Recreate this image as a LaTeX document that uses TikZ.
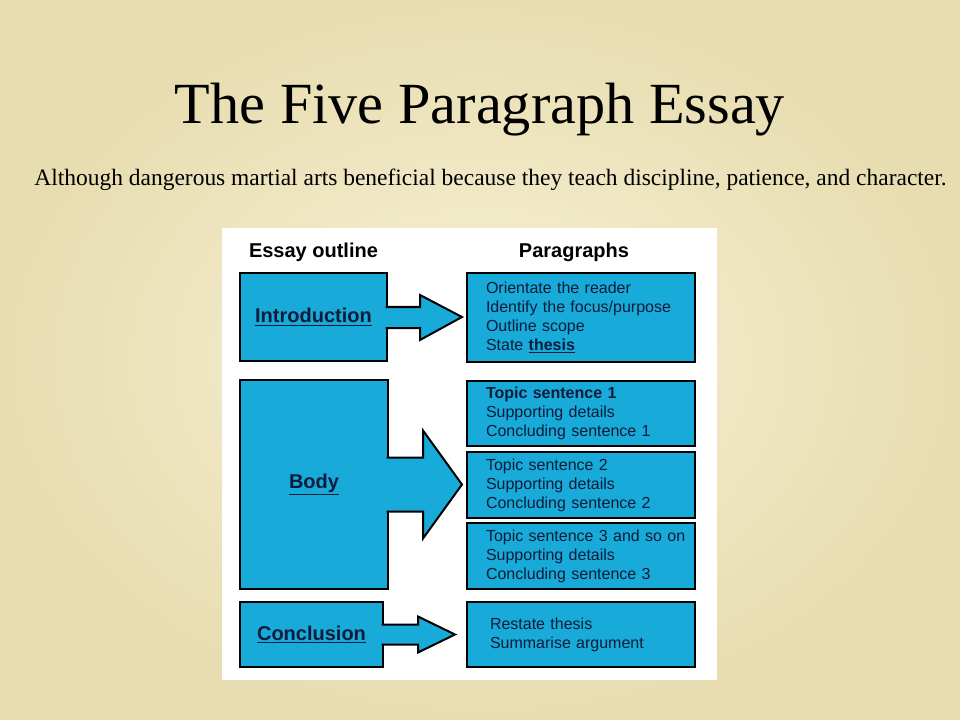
\documentclass[tikz,border=0pt]{standalone}
\usepackage{fontspec}
\setmainfont{Liberation Serif}
\setsansfont{Liberation Sans}
\usepackage{tikz}
\usetikzlibrary{calc,positioning}
\definecolor{parchin}{RGB}{247,242,216}
\definecolor{parchout}{RGB}{232,221,176}
\definecolor{boxblue}{RGB}{24,170,216}
\definecolor{boxtext}{RGB}{12,28,58}

\begin{document}
\begin{tikzpicture}[x=0.75pt,y=-0.75pt,
		outline/.style={draw=black,line width=1.5pt,fill=boxblue,outer sep=0pt,line join=miter},
		leftbox/.style={outline,font=\sffamily\bfseries\fontsize{15}{18}\selectfont,text=boxtext,inner sep=0pt},
		parbox/.style={outline,font=\sffamily\fontsize{12}{14.25}\selectfont,text=boxtext,align=left,
			text width=142.5pt,inner xsep=14.25pt,inner ysep=0pt,minimum width=171pt},
		heading/.style={font=\sffamily\bfseries\fontsize{15}{18}\selectfont,text=black}]
			% slide and white panel
			\shade[inner color=parchin,outer color=parchout] (0,0) rectangle (960,720);
			\useasboundingbox (0,0) rectangle (960,720);
			\fill[white] (222,228) rectangle (717,680);
			% title and thesis
			\node[font=\fontsize{43.7}{50}\selectfont,anchor=base] (title) at (480,124) {The Five Paragraph Essay};
			\node[font=\fontsize{17.6}{21}\selectfont,anchor=base] (thesisline) at (490.5,186) {Although dangerous martial arts beneficial because they teach discipline, patience, and character.};
			% column headings
			\node[heading] (outlinehead) at (313.5,252) {Essay outline};
			\node[heading] (parahead) at (574,252) {Paragraphs};
			% outline boxes
			\node[leftbox,minimum width=110.25pt,minimum height=66pt] (intro) at (313.5,317) {\underline{Introduction}};
			\node[leftbox,minimum width=111pt,minimum height=156.75pt] (body) at (314,484.5) {\underline{Body}};
			\node[leftbox,minimum width=107.25pt,minimum height=48.75pt] (concl) at (311.5,634.5) {\underline{Conclusion}};
			% block arrows
			\filldraw[outline] ($(intro.east)+(-1.5,-10)$) -- ++(34.5,0) -- ++(0,-12) -- ++(42,22) -- ++(-42,23) -- ++(0,-12) -- ++(-34.5,0);
			\filldraw[outline] ($(body.east)+(-1.5,-27)$) -- ++(36.5,0) -- ++(0,-27) -- ++(39,54) -- ++(-39,54) -- ++(0,-27) -- ++(-36.5,0);
			\filldraw[outline] ($(concl.east)+(-1.5,-10)$) -- ++(36.5,0) -- ++(0,-8) -- ++(37,18) -- ++(-37,18) -- ++(0,-8) -- ++(-36.5,0);
			% paragraph boxes
			\node[parbox,minimum height=66.75pt] (introtext) at (581,317.5) {Orientate the reader\\Identify the focus/purpose\\Outline scope\\State \textbf{\underline{thesis}}};
			\node[parbox,minimum height=48.75pt] (topicone) at (581,413.5) {\textbf{Topic sentence 1}\\Supporting details\\Concluding sentence 1};
			\node[parbox,minimum height=49.5pt] (topictwo) at (581,485) {Topic sentence 2\\Supporting details\\Concluding sentence 2};
			\node[parbox,minimum height=49.5pt] (topicthree) at (581,556) {\mbox{Topic sentence 3 and so on}\\Supporting details\\Concluding sentence 3};
			\node[parbox,minimum height=48.75pt] (concltext) at (581,634.5) {\hspace*{3pt}Restate thesis\\\hspace*{3pt}Summarise argument};
\end{tikzpicture}
\end{document}
